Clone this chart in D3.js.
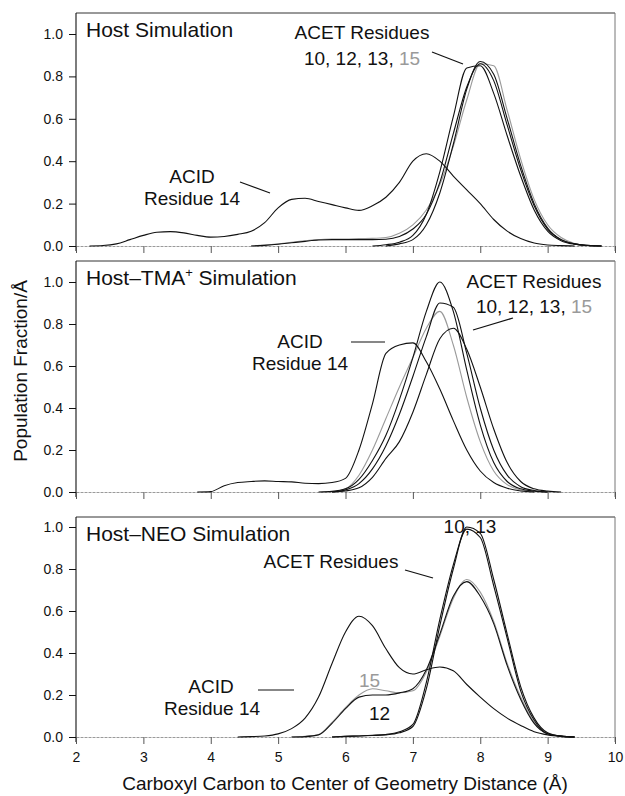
<!DOCTYPE html>
<html lang="en">
<head>
<meta charset="UTF-8">
<title>Carboxyl carbon distance distributions</title>
<script src="https://d3js.org/d3.v7.min.js"></script>
<style>
  body { margin: 0; background: #fff; }
  svg text { font-family: "Liberation Sans", Arial, Helvetica, sans-serif; fill: #111; }
  .curve { fill: none; stroke-width: 1.1; stroke-linejoin: round; }
</style>
</head>
<body>
<div id="chart"></div>
<script>
// distance grid (Å), shared by every series
var distance = [2.0, 2.2, 2.4, 2.6, 2.8, 3.0, 3.2, 3.4, 3.6, 3.8,
                4.0, 4.2, 4.4, 4.6, 4.8, 5.0, 5.2, 5.4, 5.6, 5.8,
                6.0, 6.2, 6.4, 6.6, 6.8, 7.0, 7.2, 7.4, 7.6, 7.8,
                8.0, 8.2, 8.4, 8.6, 8.8, 9.0, 9.2, 9.4, 9.6, 9.8, 10.0];
var xTicks = [2, 3, 4, 5, 6, 7, 8, 9, 10];
var yTicks = [0.0, 0.2, 0.4, 0.6, 0.8, 1.0];

// Host simulation
var host14 = [0, 0, 0.002, 0.01, 0.03, 0.05, 0.065, 0.068, 0.062, 0.05,
              0.042, 0.045, 0.055, 0.07, 0.11, 0.18, 0.22, 0.225, 0.21, 0.195,
              0.18, 0.168, 0.19, 0.23, 0.3, 0.4, 0.435, 0.4, 0.33, 0.265,
              0.2, 0.125, 0.07, 0.035, 0.014, 0.005, 0.002, 0, 0, 0, 0];
var host10 = [0, 0, 0, 0, 0, 0, 0, 0, 0, 0,
              0, 0, 0, 0, 0, 0, 0, 0, 0, 0,
              0, 0, 0, 0.006, 0.018, 0.05, 0.15, 0.35, 0.61, 0.84,
              0.85, 0.72, 0.52, 0.33, 0.17, 0.07, 0.025, 0.008, 0.002, 0, 0];
var host12 = [0, 0, 0, 0, 0, 0, 0, 0, 0, 0,
              0, 0, 0, 0, 0.003, 0.008, 0.015, 0.022, 0.028, 0.03,
              0.03, 0.03, 0.03, 0.032, 0.045, 0.08, 0.15, 0.3, 0.53, 0.75,
              0.86, 0.78, 0.57, 0.36, 0.19, 0.08, 0.03, 0.01, 0.002, 0, 0];
var host13 = [0, 0, 0, 0, 0, 0, 0, 0, 0, 0,
              0, 0, 0, 0, 0, 0, 0, 0, 0, 0,
              0, 0, 0, 0, 0.01, 0.03, 0.1, 0.25, 0.48, 0.74,
              0.87, 0.81, 0.6, 0.38, 0.2, 0.085, 0.03, 0.01, 0.003, 0, 0];
var host15 = [0, 0, 0, 0, 0, 0, 0, 0, 0, 0,
              0, 0, 0, 0, 0.004, 0.01, 0.018, 0.025, 0.03, 0.033,
              0.033, 0.035, 0.036, 0.04, 0.06, 0.1, 0.17, 0.29, 0.47, 0.69,
              0.86, 0.85, 0.64, 0.41, 0.22, 0.1, 0.04, 0.012, 0.003, 0, 0];

// Host-TMA+ simulation
var tma14 = [0, 0, 0, 0, 0, 0, 0, 0, 0, 0,
             0.002, 0.03, 0.045, 0.05, 0.053, 0.05, 0.048, 0.042, 0.04, 0.045,
             0.065, 0.2, 0.42, 0.66, 0.7, 0.71, 0.62, 0.49, 0.34, 0.2,
             0.1, 0.045, 0.018, 0.005, 0, 0, 0, 0, 0, 0, 0];
var tma10 = [0, 0, 0, 0, 0, 0, 0, 0, 0, 0,
             0, 0, 0, 0, 0, 0, 0, 0, 0, 0.003,
             0.015, 0.06, 0.15, 0.27, 0.44, 0.64, 0.86, 1.0, 0.86, 0.58,
             0.32, 0.14, 0.05, 0.015, 0.004, 0, 0, 0, 0, 0, 0];
var tma12 = [0, 0, 0, 0, 0, 0, 0, 0, 0, 0,
             0, 0, 0, 0, 0, 0, 0, 0, 0, 0,
             0.01, 0.04, 0.11, 0.22, 0.37, 0.55, 0.74, 0.9, 0.88, 0.66,
             0.4, 0.2, 0.08, 0.025, 0.007, 0, 0, 0, 0, 0, 0];
var tma13 = [0, 0, 0, 0, 0, 0, 0, 0, 0, 0,
             0, 0, 0, 0, 0, 0, 0, 0, 0, 0,
             0.005, 0.02, 0.07, 0.16, 0.24, 0.38, 0.56, 0.73, 0.78, 0.68,
             0.5, 0.3, 0.14, 0.05, 0.015, 0.004, 0, 0, 0, 0, 0];
var tma15 = [0, 0, 0, 0, 0, 0, 0, 0, 0, 0,
             0, 0, 0, 0, 0, 0, 0, 0, 0, 0,
             0.015, 0.08, 0.2, 0.35, 0.5, 0.64, 0.78, 0.86, 0.7, 0.45,
             0.24, 0.1, 0.035, 0.01, 0, 0, 0, 0, 0, 0, 0];

// Host-NEO simulation
var neo14 = [0, 0, 0, 0, 0, 0, 0, 0, 0, 0,
             0, 0, 0, 0.002, 0.005, 0.015, 0.04, 0.09, 0.19, 0.35,
             0.5, 0.575, 0.53, 0.42, 0.33, 0.3, 0.32, 0.333, 0.315, 0.25,
             0.19, 0.135, 0.09, 0.055, 0.025, 0.01, 0.003, 0, 0, 0, 0];
var neo10 = [0, 0, 0, 0, 0, 0, 0, 0, 0, 0,
             0, 0, 0, 0, 0, 0, 0, 0, 0, 0,
             0.003, 0.005, 0.008, 0.012, 0.025, 0.06, 0.26, 0.56, 0.82, 0.99,
             0.95, 0.72, 0.47, 0.22, 0.08, 0.015, 0.003, 0, 0, 0, 0];
var neo12 = [0, 0, 0, 0, 0, 0, 0, 0, 0, 0,
             0, 0, 0, 0, 0, 0, 0, 0.002, 0.01, 0.065,
             0.135, 0.19, 0.2, 0.2, 0.21, 0.23, 0.32, 0.49, 0.67, 0.74,
             0.67, 0.54, 0.34, 0.18, 0.065, 0.015, 0.004, 0, 0, 0, 0];
var neo13 = [0, 0, 0, 0, 0, 0, 0, 0, 0, 0,
             0, 0, 0, 0, 0, 0, 0, 0, 0, 0,
             0.003, 0.005, 0.007, 0.01, 0.02, 0.05, 0.23, 0.53, 0.8, 1.0,
             0.97, 0.75, 0.49, 0.24, 0.09, 0.02, 0.004, 0, 0, 0, 0];
var neo15 = [0, 0, 0, 0, 0, 0, 0, 0, 0, 0,
             0, 0, 0, 0, 0, 0, 0, 0.003, 0.012, 0.07,
             0.14, 0.2, 0.23, 0.22, 0.21, 0.22, 0.31, 0.48, 0.66, 0.75,
             0.69, 0.55, 0.35, 0.19, 0.07, 0.017, 0.004, 0, 0, 0, 0];

var width = 625, height = 796;
var gray = "#9a9a9a";

var panels = [
    { title: "Host Simulation", top: 13, zero: 246, one: 34,
      series: [host15, host14, host12, host10, host13] },
    { title: "Host\u2013TMA", sup: "+", titleRest: " Simulation", top: 261, zero: 492, one: 282,
      series: [tma15, tma14, tma12, tma10, tma13] },
    { title: "Host\u2013NEO Simulation", top: 517, zero: 737, one: 527,
      series: [neo15, neo14, neo12, neo10, neo13] }
];
var grayIndex = 0;   // residue 15 is drawn in grey

var svg = d3.select("#chart").append("svg")
    .attr("width", width)
    .attr("height", height);

var x = d3.scaleLinear().domain([2, 10]).range([76, 615]);

function addText(g, px, py, str, size, anchor, color) {
    return g.append("text")
        .attr("x", px).attr("y", py)
        .attr("text-anchor", anchor || "start")
        .style("font-size", size + "px")
        .style("fill", color || "#111")
        .text(str);
}

function leader(g, x1, y1, x2, y2) {
    g.append("line")
        .attr("x1", x1).attr("y1", y1).attr("x2", x2).attr("y2", y2)
        .attr("stroke", "#111").attr("stroke-width", 1.2);
}

panels.forEach(function(p, pi) {
    var g = svg.append("g");
    var y = d3.scaleLinear().domain([0, 1]).range([p.zero, p.one]);

    // frame
    g.append("line").attr("x1", 76).attr("x2", 615).attr("y1", p.top).attr("y2", p.top)
        .attr("stroke", "#333").attr("stroke-width", 1);
    g.append("line").attr("x1", 615).attr("x2", 615).attr("y1", p.top).attr("y2", p.zero + 5)
        .attr("stroke", "#777").attr("stroke-width", 1);
    g.append("line").attr("x1", 76).attr("x2", 76).attr("y1", p.top).attr("y2", p.zero + 5)
        .attr("stroke", "#111").attr("stroke-width", 1.1);

    // x axis on the zero line
    var xa = g.append("g")
        .attr("transform", "translate(0," + p.zero + ")")
        .call(d3.axisBottom(x).tickValues(xTicks).tickSize(7).tickSizeOuter(0).tickPadding(8)
            .tickFormat(pi === 2 ? d3.format("d") : function() { return ""; }));
    xa.select(".domain").attr("stroke", gray).attr("stroke-dasharray", "3,1");
    xa.selectAll(".tick line").attr("stroke", "#555");
    xa.selectAll(".tick text").style("font-size", "14px").style("fill", "#111")
        .style("font-family", "'Liberation Sans', Arial, sans-serif");

    // y axis
    var ya = g.append("g")
        .attr("transform", "translate(76,0)")
        .call(d3.axisLeft(y).tickValues(yTicks).tickSize(7).tickPadding(6)
            .tickFormat(d3.format(".1f")));
    ya.select(".domain").remove();
    ya.selectAll(".tick line").attr("stroke", "#111");
    ya.selectAll(".tick text").style("font-size", "14px").style("fill", "#111")
        .style("font-family", "'Liberation Sans', Arial, sans-serif");

    // curves, only where the distribution leaves zero
    p.series.forEach(function(vals, si) {
        var line = d3.line()
            .defined(function(d, i) {
                return vals[i] > 0 || vals[i - 1] > 0 || vals[i + 1] > 0;
            })
            .x(function(d) { return x(d); })
            .y(function(d, i) { return y(vals[i]); })
            .curve(d3.curveMonotoneX);
        g.append("path")
            .attr("class", "curve")
            .attr("stroke", si === grayIndex ? gray : "#111")
            .attr("d", line(distance));
    });

    // title
    var t = g.append("text").attr("x", 86).attr("y", p.top + 24).style("font-size", "21px");
    t.append("tspan").text(p.title);
    if (p.sup) {
        t.append("tspan").attr("dy", -8).style("font-size", "13px").text(p.sup);
        t.append("tspan").attr("dy", 8).text(p.titleRest);
    }
});

// annotations
var a1 = svg.append("g");
addText(a1, 362, 39, "ACET Residues", 19, "middle");
var r1 = a1.append("text").attr("x", 362).attr("y", 65).attr("text-anchor", "middle").style("font-size", "19px");
r1.append("tspan").text("10, 12, 13, ");
r1.append("tspan").style("fill", gray).text("15");
leader(a1, 432, 52, 463, 64);
addText(a1, 192, 183, "ACID", 19, "middle");
addText(a1, 192, 205, "Residue 14", 19, "middle");
leader(a1, 240, 182, 270, 193);

var a2 = svg.append("g");
addText(a2, 534, 288, "ACET Residues", 19, "middle");
var r2 = a2.append("text").attr("x", 534).attr("y", 313).attr("text-anchor", "middle").style("font-size", "19px");
r2.append("tspan").text("10, 12, 13, ");
r2.append("tspan").style("fill", gray).text("15");
leader(a2, 513, 318, 473, 330);
addText(a2, 300, 348, "ACID", 19, "middle");
addText(a2, 300, 370, "Residue 14", 19, "middle");
leader(a2, 351, 342, 385, 342);

var a3 = svg.append("g");
addText(a3, 470, 533, "10, 13", 19, "middle");
addText(a3, 331, 568, "ACET Residues", 19, "middle");
leader(a3, 405, 570, 433, 578);
addText(a3, 211, 693, "ACID", 19, "middle");
addText(a3, 212, 715, "Residue 14", 19, "middle");
leader(a3, 258, 690, 294, 690);
addText(a3, 359, 687, "15", 19, "start", gray);
addText(a3, 369, 720, "12", 19, "start");

// axis titles
addText(svg, 345, 790, "Carboxyl Carbon to Center of Geometry Distance (\u00c5)", 19, "middle");
svg.append("text")
    .attr("transform", "translate(27,371) rotate(-90)")
    .attr("text-anchor", "middle")
    .style("font-size", "19px")
    .text("Population Fraction/\u00c5");
</script>
</body>
</html>
